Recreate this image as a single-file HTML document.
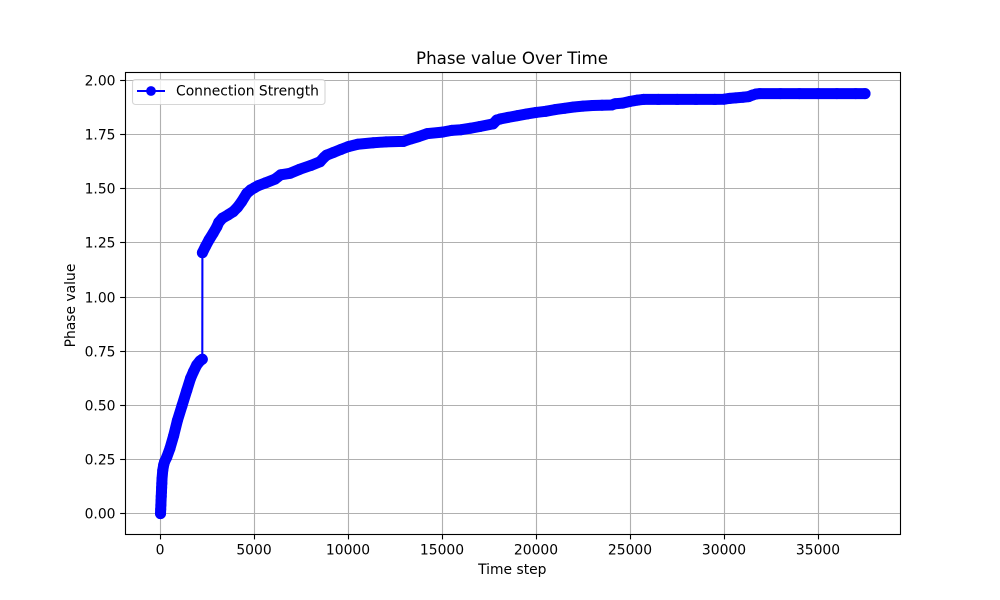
<!DOCTYPE html>
<html lang="en">
<head>
<meta charset="utf-8">
<title>Phase value Over Time</title>
<style>
html,body{margin:0;padding:0;background:#fff;}
svg{display:block;}
text{font-family:"DejaVu Sans",sans-serif;fill:#000;}
</style>
</head>
<body>
<svg id="chart" xmlns="http://www.w3.org/2000/svg" width="1000" height="600" viewBox="0 0 1000 600">
  <rect x="0" y="0" width="1000" height="600" fill="#fff"/>
  <rect x="125" y="72" width="775" height="462" fill="#fff"/>
  <g id="grid"></g>
  <g id="series"></g>
  <g id="ticks"></g>
  <rect x="125.5" y="72.5" width="775" height="462" fill="none" stroke="#000" stroke-width="1.11"/>
  <g>
    <rect x="132.5" y="79.5" width="192.5" height="25" rx="3" ry="3" fill="#fff" fill-opacity="0.8" stroke="#ccc" stroke-opacity="0.8" stroke-width="1.11"/>
    <line x1="137" y1="91" x2="165" y2="91" stroke="#0000ff" stroke-width="2.08"/>
    <circle cx="151" cy="91" r="4.17" fill="#0000ff" stroke="#0000ff" stroke-width="1.39"/>
    <text x="176" y="95.5" font-size="13.89">Connection Strength</text>
  </g>
  <text x="512" y="64" font-size="16.67" text-anchor="middle">Phase value Over Time</text>
  <text x="512.3" y="574" font-size="13.89" text-anchor="middle">Time step</text>
  <text transform="translate(75,305.5) rotate(-90)" font-size="13.89" text-anchor="middle">Phase value</text>
</svg>
<script>
const timeSteps = [0,10,20,30,40,50,60,70,80,120,170,220,330,500,700,900,1150,1400,1600,1750,1925,2100,2225,
2230,2400,2580,2800,3000,3100,3300,3600,3875,4100,
4320,4590,4800,5000,5200,5600,6095,6400,6900,7400,
8000,8490,8700,8845,9200,9600,9995,10500,11325,12000,
12925,13300,13725,14200,15000,15500,16000,16500,17000,17700,
17900,18100,18500,19000,19500,20000,20500,21000,21500,22000,
22500,23000,23500,24000,24200,24600,25000,25400,25700,26500,
27500,28500,29500,30000,30300,30600,31000,31300,31500,31700,
31900,33000,34000,35000,36000,37000,37500];
const phaseValues = [0,0.02,0.04,0.06,0.08,0.10,0.12,0.14,0.16,0.20,0.225,0.24,0.26,0.30,0.36,0.43,0.50,0.57,0.625,0.655,0.686,0.705,0.713,
1.205,1.235,1.264,1.295,1.325,1.345,1.365,1.38,1.395,1.415,
1.441,1.479,1.495,1.505,1.515,1.528,1.545,1.565,1.572,1.59,
1.608,1.625,1.645,1.656,1.668,1.682,1.695,1.706,1.713,1.717,
1.719,1.73,1.741,1.755,1.762,1.77,1.773,1.78,1.788,1.80,
1.818,1.823,1.83,1.838,1.846,1.853,1.858,1.866,1.872,1.878,
1.882,1.885,1.886,1.887,1.893,1.896,1.904,1.91,1.913,1.913,
1.913,1.913,1.913,1.914,1.918,1.92,1.923,1.926,1.933,1.938,
1.94,1.94,1.94,1.94,1.94,1.94,1.94];
const xTickValues = [0,5000,10000,15000,20000,25000,30000,35000];
const yTickValues = [0,0.25,0.5,0.75,1,1.25,1.5,1.75,2];

const xDomainMin = -1889.5, xDomainMax = 39360;
const yDomainMin = -0.0942, yDomainMax = 2.0397;
const plotLeft = 125, plotRight = 900, plotTop = 72, plotBottom = 534;
const SVGNS = 'http://www.w3.org/2000/svg';

function xScale(v){ return plotLeft + (v - xDomainMin) / (xDomainMax - xDomainMin) * (plotRight - plotLeft); }
function yScale(v){ return plotBottom - (v - yDomainMin) / (yDomainMax - yDomainMin) * (plotBottom - plotTop); }
function snap(p){ return Math.floor(p) + 0.5; }
function make(tag, attrs, parent){
  const e = document.createElementNS(SVGNS, tag);
  for (const k in attrs) e.setAttribute(k, attrs[k]);
  parent.appendChild(e);
  return e;
}

const gridG = document.getElementById('grid');
const ticksG = document.getElementById('ticks');
const seriesG = document.getElementById('series');

xTickValues.forEach(function(v){
  const px = snap(xScale(v));
  const g = make('line', {x1:px, x2:px, y1:plotTop, y2:plotBottom, stroke:'#b0b0b0', 'stroke-width':1.11}, gridG);
  
  
  const t = make('line', {x1:px, x2:px, y1:plotBottom, y2:plotBottom + 5.4, stroke:'#000', 'stroke-width':1.11}, ticksG);
  
  
  const l = make('text', {x:px - 0.5, y:554.5, 'font-size':13.89, 'text-anchor':'middle'}, ticksG);
  
  
  l.textContent = String(v);
});

yTickValues.forEach(function(v){
  const py = snap(yScale(v));
  const g = make('line', {x1:plotLeft, x2:plotRight, y1:py, y2:py, stroke:'#b0b0b0', 'stroke-width':1.11}, gridG);
  
  
  const t = make('line', {x1:plotLeft - 4.86, x2:plotLeft, y1:py, y2:py, stroke:'#000', 'stroke-width':1.11}, ticksG);
  
  
  const l = make('text', {x:115.5, y:py + 5, 'font-size':13.89, 'text-anchor':'end'}, ticksG);
  
  
  l.textContent = v.toFixed(2);
});

let lineD = '';
let bandD = '';
timeSteps.forEach(function(t, i){
  const px = xScale(t).toFixed(2);
  const py = yScale(phaseValues[i]).toFixed(2);
  lineD += (i ? 'L' : 'M') + px + ' ' + py;
  const nearPrev = i > 0 && Math.abs(yScale(phaseValues[i]) - yScale(phaseValues[i - 1])) < 30;
  bandD += (nearPrev ? 'L' : 'M') + px + ' ' + py;
});

const band = make('path', {d:bandD, fill:'none', stroke:'#0000ff', 'stroke-width':11, 'stroke-linecap':'round', 'stroke-linejoin':'round'}, seriesG);



const seriesLine = make('path', {d:lineD, fill:'none', stroke:'#0000ff', 'stroke-width':2.08, 'stroke-linejoin':'round'}, seriesG);



timeSteps.forEach(function(t, i){
  const c = make('circle', {cx:xScale(t).toFixed(2), cy:yScale(phaseValues[i]).toFixed(2), r:4.8, fill:'#0000ff', stroke:'#0000ff', 'stroke-width':1.39}, seriesG);
  
  
});
</script>
</body>
</html>
